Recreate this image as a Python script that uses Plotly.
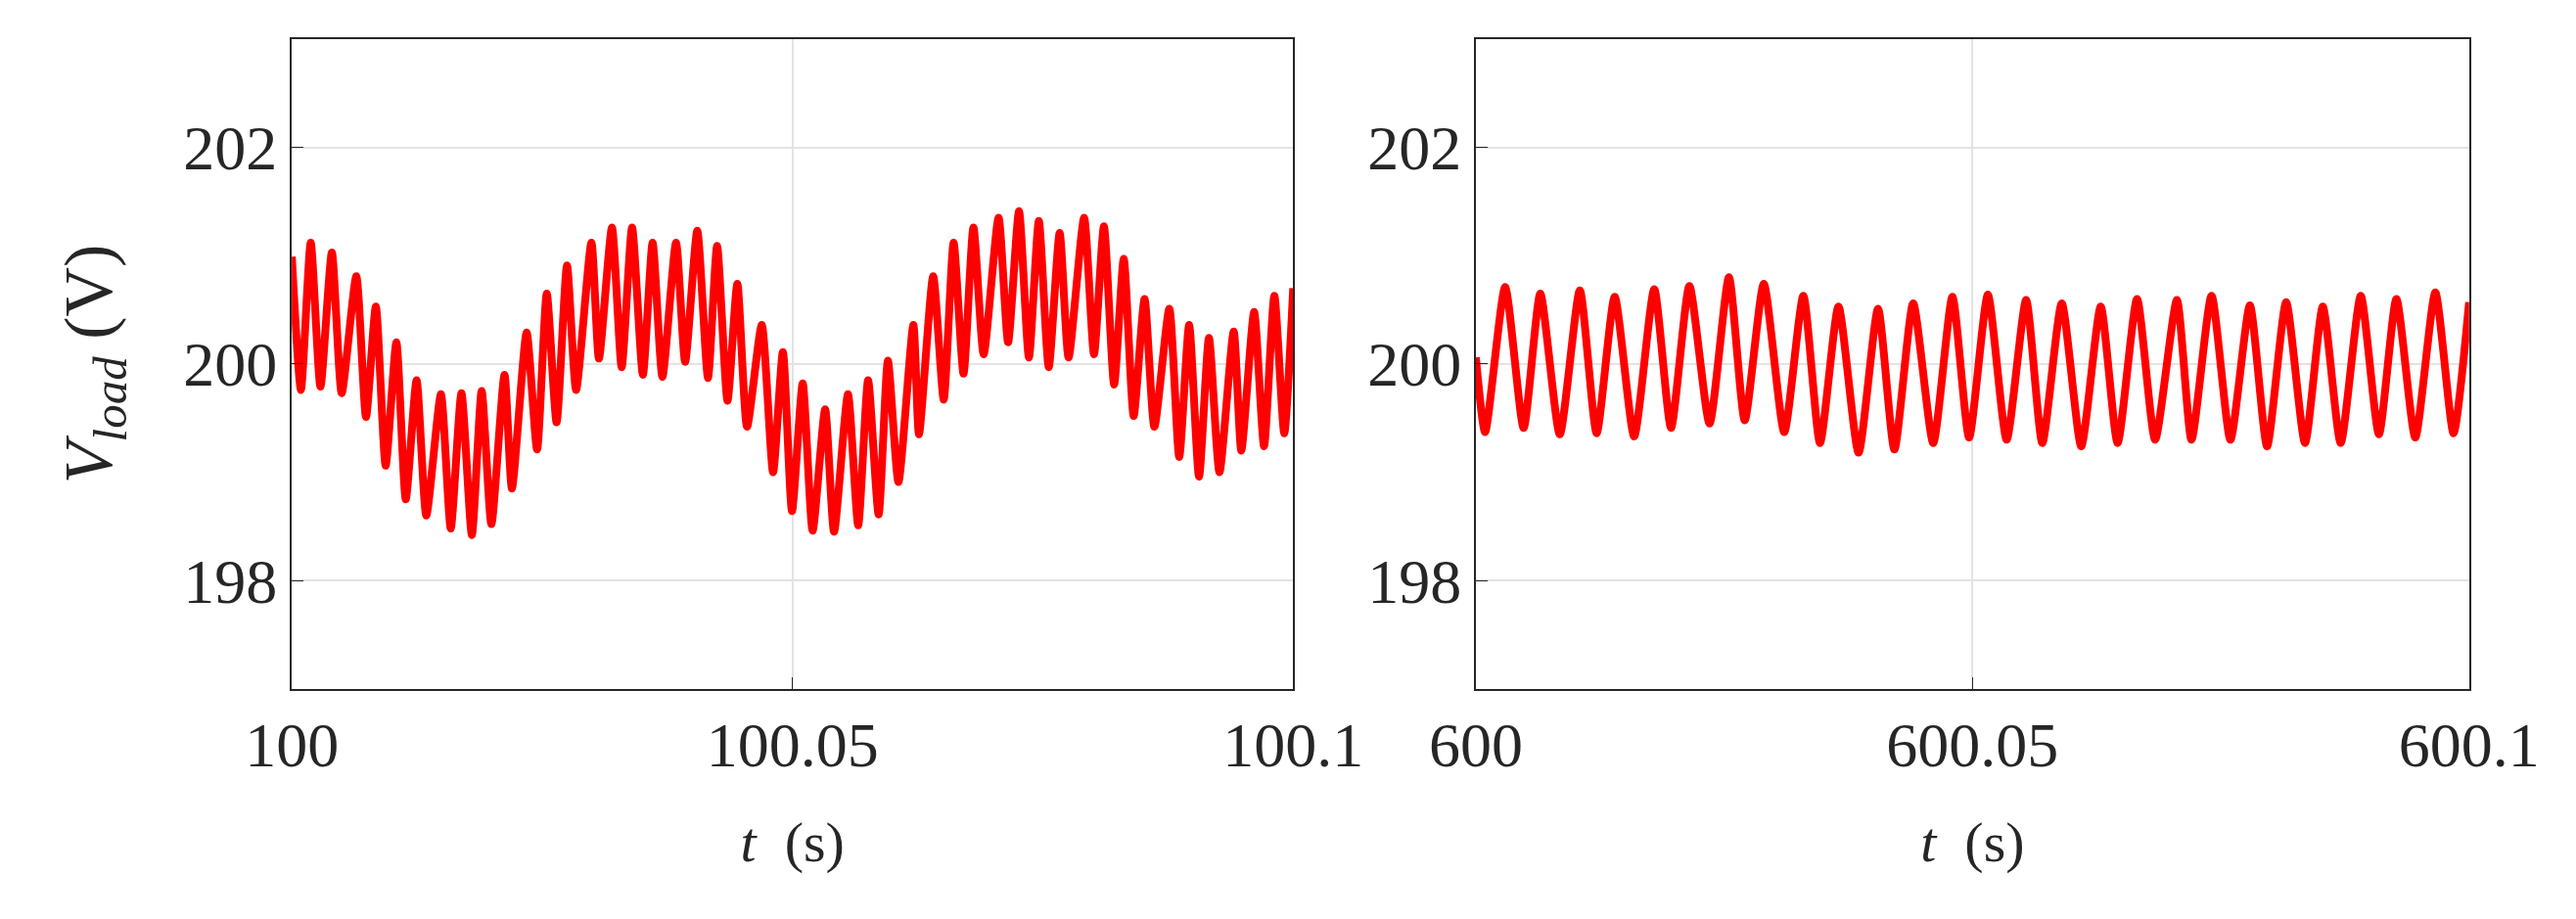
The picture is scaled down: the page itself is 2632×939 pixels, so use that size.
import plotly.graph_objects as go
from plotly.subplots import make_subplots

# left panel, t = 100 s + t_ms/1000 (local peaks and troughs)
t_left_ms = [0.00, 0.91, 1.89, 2.86, 4.00, 4.98, 6.44, 7.41, 8.39, 9.37, 10.44, 11.38,
             12.46, 13.43, 14.89, 15.87, 16.94, 17.98, 18.96, 19.93, 21.24, 21.98, 23.45,
             24.49, 25.46, 26.44, 27.48, 28.39, 29.92, 30.67, 31.97, 32.94, 33.98, 35.06,
             36.03, 37.01, 38.37, 39.28, 40.49, 41.56, 42.47, 43.51, 44.49, 45.46, 46.93,
             48.06, 49.04, 49.95,
             51.02, 52.01, 53.26, 54.15, 55.54, 56.56, 57.55, 58.60, 59.53, 60.58, 62.07,
             62.63, 64.05, 65.10, 66.09, 67.08, 68.07, 69.09, 70.58, 71.53, 72.62, 73.61,
             74.60, 75.59, 76.68, 77.57, 79.12, 80.11, 81.10, 82.12, 83.08, 84.07, 85.16,
             86.14, 87.63, 88.62, 89.61, 90.60, 91.59, 92.64, 94.06, 94.82, 96.10, 97.09,
             98.12, 99.11, 100.0]
v_left = [200.99, 199.76, 201.12, 199.79, 201.03, 199.73, 200.81, 199.51, 200.53, 199.06,
          200.20, 198.75, 199.85, 198.60, 199.72, 198.48, 199.73, 198.42, 199.75, 198.52,
          199.90, 198.85, 200.29, 199.21, 200.65, 199.46, 200.91, 199.76, 201.12, 200.05,
          201.26, 199.97, 201.26, 199.90, 201.12, 199.88, 201.12, 200.02, 201.23, 199.87,
          201.09, 199.66, 200.74, 199.42, 200.36, 199.00, 200.11, 198.64,
          199.82, 198.46, 199.58, 198.45, 199.72, 198.51, 199.85, 198.61, 200.03, 198.91,
          200.36, 199.35, 200.81, 199.67, 201.12, 199.91, 201.26, 200.09, 201.35, 200.20,
          201.41, 200.06, 201.32, 199.97, 201.21, 200.06, 201.35, 200.09, 201.27, 199.81,
          200.97, 199.52, 200.60, 199.42, 200.51, 199.14, 200.36, 198.96, 200.24, 199.00,
          200.30, 199.20, 200.48, 199.24, 200.63, 199.36, 200.70]

# right panel, t = 600 s + t_ms/1000
t_right_ms = [0.00, 0.93, 2.95, 4.81, 6.49, 8.45, 10.47, 12.16, 13.98, 15.94, 17.96, 19.65,
              21.50, 23.53, 25.48, 27.07, 28.99, 31.05, 32.97, 34.65, 36.51, 38.53, 40.49,
              42.14, 44.03, 46.05, 47.98, 49.66, 51.55, 53.44, 55.40, 57.03, 58.99, 60.95,
              62.91, 64.61, 66.57, 68.39, 70.58, 72.05, 74.07, 75.97, 77.93, 79.66, 81.58,
              83.48, 85.27, 87.07, 89.09, 90.92, 92.68, 94.58, 96.60, 98.43, 100.0]
v_right = [200.06, 199.37, 200.71, 199.41, 200.65, 199.35, 200.68, 199.36, 200.62, 199.33,
           200.69, 199.41, 200.72, 199.45, 200.80, 199.48, 200.74, 199.37, 200.63, 199.27,
           200.53, 199.18, 200.51, 199.21, 200.56, 199.27, 200.62, 199.32, 200.64, 199.30,
           200.59, 199.27, 200.56, 199.24, 200.53, 199.27, 200.60, 199.30, 200.59, 199.30,
           200.63, 199.30, 200.54, 199.24, 200.57, 199.27, 200.53, 199.27, 200.63, 199.35,
           200.60, 199.32, 200.66, 199.36, 200.57]

font = "Liberation Serif"
fig = make_subplots(rows=1, cols=2)

fig.add_trace(go.Scatter(x=[100 + t / 1000 for t in t_left_ms], y=v_left, mode="lines",
                         line=dict(color="#ff0000", width=8, shape="spline", smoothing=0.6),
                         showlegend=False), row=1, col=1)
fig.add_trace(go.Scatter(x=[600 + t / 1000 for t in t_right_ms], y=v_right, mode="lines",
                         line=dict(color="#ff0000", width=8, shape="spline", smoothing=0.6),
                         showlegend=False), row=1, col=2)

axis_common = dict(showline=True, mirror=True, linecolor="#262626", linewidth=2,
                   showgrid=True, gridcolor="#e3e3e3", gridwidth=2,
                   ticks="inside", ticklen=12, tickcolor="#262626", zeroline=False,
                   tickfont=dict(family=font, size=64, color="#262626"))

fig.update_xaxes(axis_common)
fig.update_yaxes(axis_common)

xt = dict(text="<i>t</i>  (s)", font=dict(family=font, size=58, color="#262626"), standoff=44)
fig.update_layout(
    width=2632, height=939, plot_bgcolor="white", paper_bgcolor="white",
    margin=dict(l=0, r=0, t=0, b=0),
    xaxis=dict(domain=[0.0964, 0.5037], range=[100, 100.1],
               tickvals=[100, 100.05, 100.1], ticktext=["100", "100.05", "100.1"], title=xt),
    xaxis2=dict(domain=[0.578, 0.982], range=[600, 600.1],
                tickvals=[600, 600.05, 600.1], ticktext=["600", "600.05", "600.1"], title=xt),
    yaxis=dict(domain=[0.259, 0.966], range=[197, 203], tickvals=[198, 200, 202],
               title=dict(text="<i>V<sub>load</sub></i> (V)",
                          font=dict(family=font, size=70, color="#262626"), standoff=50)),
    yaxis2=dict(domain=[0.259, 0.966], range=[197, 203], tickvals=[198, 200, 202]),
)

fig.write_html("out.html")
